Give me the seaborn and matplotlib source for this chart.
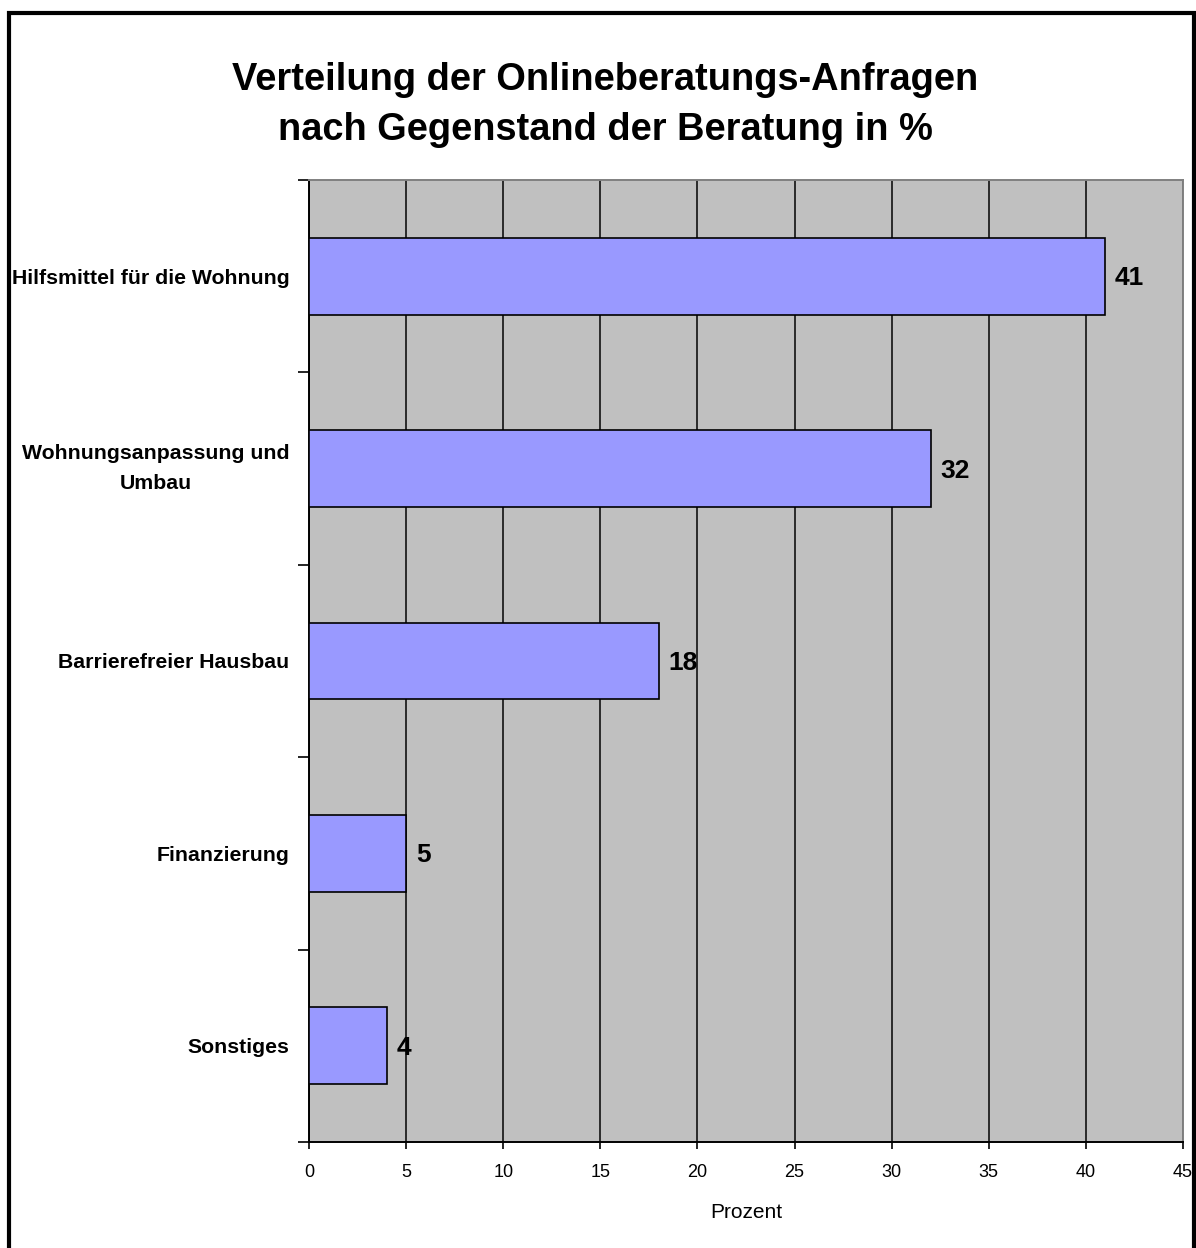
import matplotlib
matplotlib.use("Agg")
import matplotlib.pyplot as plt
import seaborn as sns
import pandas as pd
from matplotlib.patches import Rectangle

categories = ["Hilfsmittel für die Wohnung", "Wohnungsanpassung und\nUmbau",
              "Barrierefreier Hausbau", "Finanzierung", "Sonstiges"]
values = [41, 32, 18, 5, 4]
xticks = [0, 5, 10, 15, 20, 25, 30, 35, 40, 45]

sns.set_theme(style="white")
plt.rcParams['font.family'] = ['Liberation Sans', 'DejaVu Sans']
plt.rcParams['text.color'] = 'black'
plt.rcParams['axes.labelcolor'] = 'black'
plt.rcParams['xtick.color'] = 'black'
plt.rcParams['ytick.color'] = 'black'

df = pd.DataFrame({"Kategorie": categories, "Prozent": values})

fig = plt.figure(figsize=(11.96, 12.48), dpi=100)
ax = fig.add_axes([309/1196, 1 - 1142/1248, (1183-309)/1196, (1142-180)/1248])
ax.set_facecolor("#C0C0C0")

sns.barplot(data=df, y="Kategorie", x="Prozent", orient="h", color="#9999FF",
            saturation=1, width=0.4, edgecolor="black", linewidth=1.2, ax=ax, zorder=3)

ax.set_xlim(0, 45)
ax.set_ylim(4.5, -0.5)
ax.set_xticks(xticks)
ax.set_xticklabels([str(t) for t in xticks], fontsize=13, color="black")
ax.xaxis.grid(True, color="#111111", linewidth=1.2, zorder=1)
ax.set_axisbelow(True)
ax.tick_params(axis="x", direction="out", length=5, width=1.2, color="black", pad=11, bottom=True)

ax.set_yticks(range(len(categories)))
ax.set_yticklabels(categories, fontsize=15.3, fontweight="bold", color="black")
for lbl in ax.get_yticklabels():
    lbl.set_multialignment("center")
    if "\n" in lbl.get_text():
        lbl.set_linespacing(1.75)
        lbl.set_verticalalignment("center")
ax.tick_params(axis="y", which="major", length=0, pad=14)
ax.set_yticks([i - 0.5 for i in range(len(categories) + 1)], minor=True)
ax.tick_params(axis="y", which="minor", direction="out", length=8, width=1.2, color="black", left=True)

ax.set_ylabel("")
ax.set_xlabel("Prozent", fontsize=15, labelpad=16, color="black")

for side in ["left", "bottom"]:
    ax.spines[side].set_color("black")
    ax.spines[side].set_linewidth(1.4)
for side in ["top", "right"]:
    ax.spines[side].set_visible(True)
    ax.spines[side].set_color("#808080")
    ax.spines[side].set_linewidth(1.4)

for i, v in enumerate(values):
    ax.annotate(str(v), xy=(v, i), xytext=(7, -1.5), textcoords="offset points",
                ha="left", va="center", fontsize=19, fontweight="bold", color="black", zorder=5)

fig.text(605/1196, 1 - 105/1248,
         "Verteilung der Onlineberatungs-Anfragen\nnach Gegenstand der Beratung in %",
         ha="center", va="center", fontsize=27.4, fontweight="bold", linespacing=1.5,
         color="black")

fig.patches.append(Rectangle((9/1196, -0.02), (1194-9)/1196, 1.02 - 13/1248,
                             transform=fig.transFigure, fill=False, edgecolor="black",
                             linewidth=3, clip_on=False))

fig.savefig("out.png", dpi=100)
